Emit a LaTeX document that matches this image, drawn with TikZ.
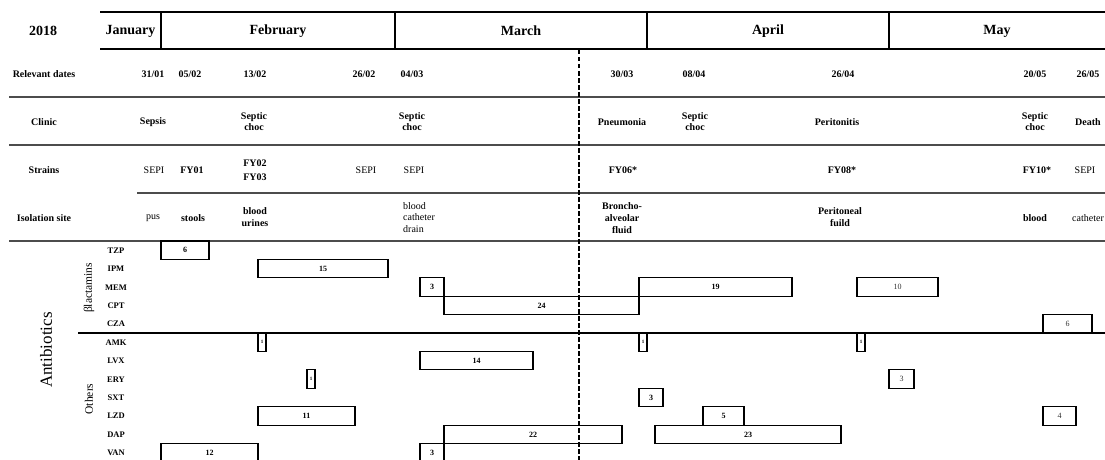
\documentclass[tikz,border=0pt]{standalone}
\usepackage{fontspec}
\setmainfont{Liberation Serif}
\tikzset{
  lab/.style={font=\fontsize{10}{11}\selectfont\bfseries, inner sep=0pt, align=center},
  reg/.style={font=\fontsize{10}{11.5}\selectfont, inner sep=0pt, align=center},
  month/.style={font=\fontsize{14}{16}\selectfont\bfseries, inner sep=0pt},
  abx/.style={font=\fontsize{8.5}{10}\selectfont\bfseries, inner sep=0pt},
  num/.style={font=\fontsize{8}{9}\selectfont\bfseries, inner sep=0pt},
  numreg/.style={font=\fontsize{8}{9}\selectfont, text=black!80, inner sep=0pt},
  tiny1/.style={font=\fontsize{5}{6}\selectfont\bfseries, inner sep=0pt},
  barbox/.style={draw=black, line width=1.1pt},
  sepline/.style={line width=1.6pt, draw=black!70},
  thinline/.style={line width=1.1pt, draw=black},
  divline/.style={line width=1.1pt, draw=black},
  cutline/.style={line width=1.2pt, draw=black, dash pattern=on 4.5pt off 2.5pt},
  grp/.style={font=\fontsize{11.5}{13}\selectfont, inner sep=0pt, rotate=90},
}
\newcommand\abbar[5]{\draw[barbox] (#1,{241+18.42*#3}) rectangle (#2,{241+18.42*(#3+1)}) node[midway,#5] {#4};}
\begin{document}
\begin{tikzpicture}[x=1pt,y=-1pt]
\useasboundingbox (0,0) rectangle (1105,460);
% header box
\draw[thinline] (100,12) -- (1105,12);
\draw[thinline] (100,49) -- (1105,49);
\foreach \x in {161,395,647,889} \draw[divline] (\x,12) -- (\x,49);
\node[month] (y2018) at (43,31) {2018};
\node[month] (jan) at (130.5,31) {January};
\node[month] (feb) at (278,31) {February};
\node[month] (mar) at (521,31) {March};
\node[month] (apr) at (768,31) {April};
\node[month] (may) at (997,31) {May};
% separators
\draw[sepline] (9,97) -- (1105,97);
\draw[sepline] (9,145) -- (1105,145);
\draw[sepline] (137,193) -- (1105,193);
\draw[sepline] (9,241) -- (1105,241);
\draw[thinline] (78,333) -- (1105,333);
% dashed cut
\coordinate (cuttop) at (579,50);
\coordinate (cutbot) at (579,462);
\draw[cutline] (cuttop) -- (cutbot);
% relevant dates
\node[lab] (rd) at (44,74) {Relevant dates};
\node[lab] (d1) at (153,74) {31/01};
\node[lab] (d2) at (190,74) {05/02};
\node[lab] (d3) at (255,74) {13/02};
\node[lab] (d4) at (364,74) {26/02};
\node[lab] (d5) at (412,74) {04/03};
\node[lab] (d6) at (622,74) {30/03};
\node[lab] (d7) at (694,74) {08/04};
\node[lab] (d8) at (843,74) {26/04};
\node[lab] (d9) at (1035,74) {20/05};
\node[lab] (d10) at (1088,74) {26/05};
% clinic
\node[lab] (cl) at (44,122) {Clinic};
\node[lab] (c1) at (153,122) {Sepsis};
\node[lab] (c2) at (254,121.5) {Septic\\choc};
\node[lab] (c3) at (412,121.5) {Septic\\choc};
\node[lab] (c4) at (622,122) {Pneumonia};
\node[lab] (c5) at (695,121.5) {Septic\\choc};
\node[lab] (c6) at (837,122) {Peritonitis};
\node[lab] (c7) at (1035,121.5) {Septic\\choc};
\node[lab] (c8) at (1088,122) {Death};
% strains
\node[lab] (st) at (44,170) {Strains};
\node[reg] (s1) at (154,170) {SEPI};
\node[lab] (s2) at (192,170) {FY01};
\node[lab, font=\fontsize{10}{14}\selectfont\bfseries] (s3) at (255,170) {FY02\\FY03};
\node[reg] (s4) at (366,170) {SEPI};
\node[reg] (s5) at (414,170) {SEPI};
\node[lab] (s6) at (623,170) {FY06*};
\node[lab] (s7) at (842,170) {FY08*};
\node[lab] (s8) at (1037,170) {FY10*};
\node[reg] (s9) at (1085,170) {SEPI};
% isolation site
\node[lab] (is) at (44,218) {Isolation site};
\node[reg] (i1) at (153,218) {pus};
\node[lab] (i2) at (193,218) {stools};
\node[lab, font=\fontsize{10}{12}\selectfont\bfseries] (i3) at (255,217) {blood\\urines};
\node[reg, align=left, anchor=west] (i4) at (403,217.5) {blood\\catheter\\drain};
\node[lab, font=\fontsize{10}{12}\selectfont\bfseries] (i5) at (622,218) {Broncho-\\alveolar\\fluid};
\node[lab, font=\fontsize{10}{12}\selectfont\bfseries] (i6) at (840,217) {Peritoneal\\fuild};
\node[lab] (i7) at (1035,218) {blood};
\node[reg] (i8) at (1088,218) {catheter};
% antibiotics side labels
\node[font=\fontsize{17}{19}\selectfont, inner sep=0pt, rotate=90] (ab) at (46,350) {Antibiotics};
\node[grp] (bl) at (89,288) {βlactamins};
\node[grp] (ot) at (89,399) {Others};
\foreach \n/\t in {0/TZP,1/IPM,2/MEM,3/CPT,4/CZA,5/AMK,6/LVX,7/ERY,8/SXT,9/LZD,10/DAP,11/VAN}
  \node[abx] (ab\t) at (116,{241+18.42*\n+9.4}) {\t};
% bars
\abbar{161}{209}{0}{6}{num}
\abbar{258}{388}{1}{15}{num}
\abbar{420}{444}{2}{3}{num}
\abbar{639}{792}{2}{19}{num}
\abbar{857}{938}{2}{10}{numreg}
\abbar{444}{639}{3}{24}{num}
\abbar{1043}{1092}{4}{6}{numreg}
\abbar{258}{266}{5}{1}{tiny1}
\abbar{639}{647}{5}{1}{tiny1}
\abbar{857}{865}{5}{1}{tiny1}
\abbar{420}{533}{6}{14}{num}
\abbar{307}{315}{7}{1}{tiny1}
\abbar{889}{914}{7}{3}{numreg}
\abbar{639}{663}{8}{3}{num}
\abbar{258}{355}{9}{11}{num}
\abbar{703}{744}{9}{5}{num}
\abbar{1043}{1076}{9}{4}{numreg}
\abbar{444}{622}{10}{22}{num}
\abbar{655}{841}{10}{23}{num}
\abbar{161}{258}{11}{12}{num}
\abbar{420}{444}{11}{3}{num}
\end{tikzpicture}
\end{document}
